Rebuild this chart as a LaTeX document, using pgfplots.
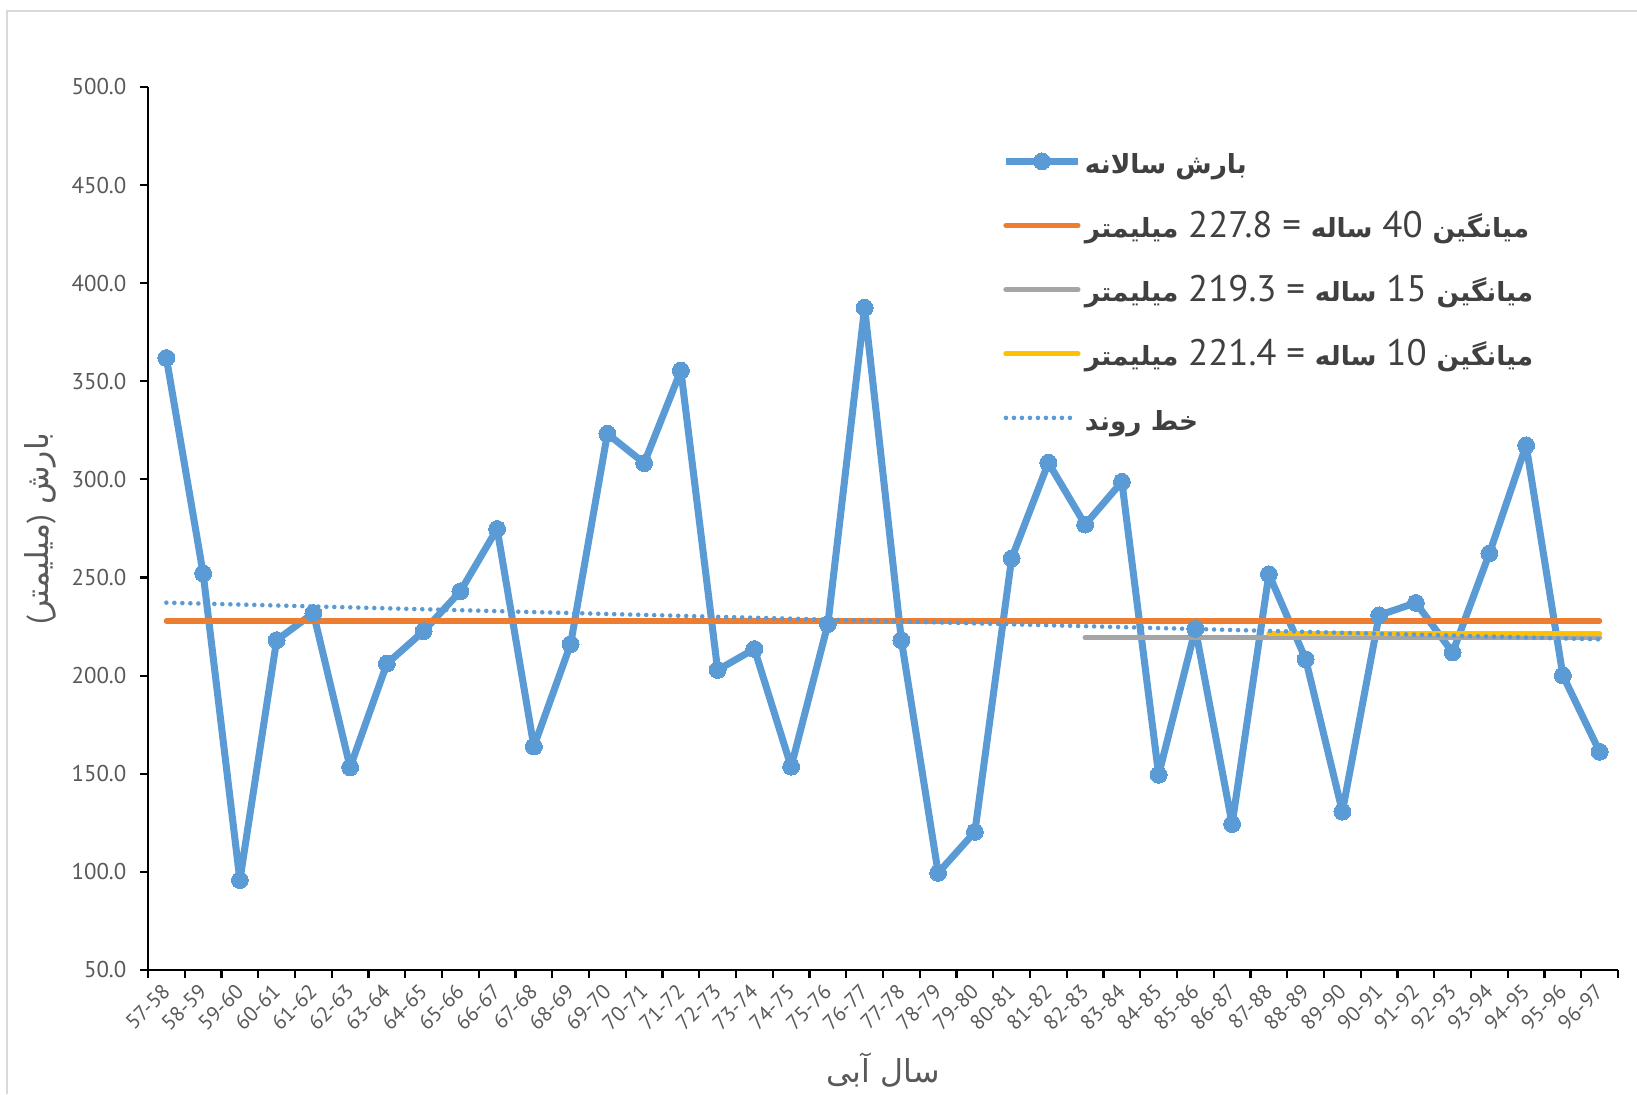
\documentclass[border=0pt]{standalone}
\usepackage{pgfplots}
\pgfplotsset{compat=1.18}
\usepackage{fontspec}
\setmainfont{PT Sans}
\newfontfamily\arb[Script=Arabic]{DejaVu Sans}
\TeXXeTstate=1

\definecolor{cBlue}{HTML}{5B9BD5}
\definecolor{cOrange}{HTML}{ED7D31}
\definecolor{cGray}{HTML}{A5A5A5}
\definecolor{cGold}{HTML}{FFC000}
\definecolor{cText}{HTML}{595959}
\definecolor{cLeg}{HTML}{404040}
\definecolor{cBorder}{HTML}{D9D9D9}

% bold arabic words in the legend, smaller than the digits
\newcommand{\fa}[1]{{\arb\bfseries\fontsize{15}{18}\selectfont #1}}
\newcommand{\ls}{\rule[-0.26cm]{0pt}{0.8cm}}

% annual rainfall, water years 57-58 ... 96-97 (index 0..39)
\pgfplotstableread{
x y
0 361.9
1 252.1
2 95.8
3 218.1
4 231.9
5 153.3
6 206.1
7 222.7
8 243.0
9 274.8
10 163.9
11 216.1
12 323.3
13 308.3
14 355.5
15 202.9
16 213.6
17 153.6
18 226.3
19 387.5
20 218.1
21 99.5
22 120.4
23 259.8
24 308.5
25 277.0
26 298.8
27 149.5
28 223.8
29 124.4
30 251.7
31 208.4
32 130.7
33 230.8
34 237.1
35 211.8
36 262.3
37 317.4
38 200.1
39 161.2
}\rain

\begin{document}
\begin{tikzpicture}
\useasboundingbox (0,0) rectangle (32.74cm,21.88cm);
\draw[cBorder, line width=0.03cm] (0.14cm,0) -- (0.14cm,21.66cm) -- (32.74cm,21.66cm);
\begin{axis}[
  at={(2.96cm,2.48cm)}, anchor=south west,
  scale only axis, width=29.4cm, height=17.66cm,
  xmin=-0.5, xmax=39.5, ymin=50, ymax=500,
  clip=false,
  axis lines*=left,
  axis line style={black, line width=1.4pt},
  tick align=outside,
  major tick length=0.16cm, minor tick length=0.16cm,
  xtick={0,...,39},
  minor xtick={-0.5,0.5,...,39.5},
  major x tick style={draw=none},
  minor x tick style={black, line width=1.2pt},
  major y tick style={black, line width=1.2pt},
  ytick={50,100,...,500},
  xticklabels={57-58,58-59,59-60,60-61,61-62,62-63,63-64,64-65,65-66,66-67,
    67-68,68-69,69-70,70-71,71-72,72-73,73-74,74-75,75-76,76-77,
    77-78,78-79,79-80,80-81,81-82,82-83,83-84,84-85,85-86,86-87,
    87-88,88-89,89-90,90-91,91-92,92-93,93-94,94-95,95-96,96-97},
  tick label style={text=cText},
  x tick label style={font=\fontsize{12}{14}\selectfont,
    yshift=-0.2cm, rotate=45, anchor=east, inner sep=0pt},
  y tick label style={font=\fontsize{13}{15}\selectfont, xshift=-0.15cm,
    /pgf/number format/.cd, fixed, fixed zerofill, precision=1,
    assume math mode=true, /tikz/.cd},
  xlabel={\arb\beginR سال آبی\endR},
  xlabel style={at={(axis description cs:0.5,-0.113)}, anchor=center,
    text=cText, font=\fontsize{18}{20}\selectfont},
  ylabel={\arb\beginR بارش {\rmfamily)}میلیمتر{\rmfamily(}\endR},
  ylabel style={at={(axis description cs:-0.058,0.5)}, anchor=south,
    text=cText, font=\fontsize{18}{20}\selectfont},
  legend image code/.code={\draw[mark repeat=2,mark phase=2,#1]
    plot coordinates {(0cm,0cm) (0.72cm,0cm) (1.44cm,0cm)};},
  legend style={draw=none, fill=none, inner sep=0pt,
    at={(axis description cs:0.581,0.933)},
    anchor=north west, row sep=0.69cm, text=cLeg,
    nodes={inner ysep=0pt},
    font=\fontsize{21}{24}\selectfont},
  legend cell align=left,
]
\addplot[cBlue, line width=4pt, line join=round, mark=*, mark size=4.8pt,
  mark options={fill=cBlue, draw=cBlue, line width=0pt}] table[x=x, y=y] {\rain};
\addlegendentry{\ls\fa{\beginR بارش سالانه\endR}}

\addplot[cOrange, line width=3pt, line cap=round] coordinates {(0,227.8) (39,227.8)};
\addlegendentry{\ls\beginR\fa{میانگین} \beginL 40\endL{} \fa{ساله} = \beginL 227.8\endL{} \fa{میلیمتر}\endR}

\addplot[cGray, line width=3pt, line cap=round] coordinates {(25,219.3) (39,219.3)};
\addlegendentry{\ls\beginR\fa{میانگین} \beginL 15\endL{} \fa{ساله} = \beginL 219.3\endL{} \fa{میلیمتر}\endR}

\addplot[cGold, line width=3pt, line cap=round] coordinates {(30,221.4) (39,221.4)};
\addlegendentry{\ls\beginR\fa{میانگین} \beginL 10\endL{} \fa{ساله} = \beginL 221.4\endL{} \fa{میلیمتر}\endR}

\addplot[cBlue, line width=2.6pt, line cap=round, dash pattern=on 0pt off 0.16cm]
  coordinates {(0,237.2) (39,218.5)};
\addlegendentry{\ls\fa{\beginR خط روند\endR}}
\end{axis}
\end{tikzpicture}
\end{document}
